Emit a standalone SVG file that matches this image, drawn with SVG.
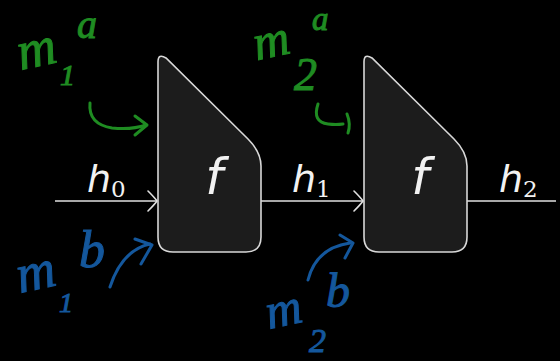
<svg xmlns="http://www.w3.org/2000/svg" width="560" height="361" viewBox="0 0 560 361">
<defs>
<style>
.box{fill:#1c1c1c;stroke:#d8d8d8;stroke-width:1.6}
.wire{stroke:#e0e0e0;stroke-width:1.6;fill:none}
.lbl{fill:#f2f2f2;font-family:"DejaVu Sans",sans-serif;font-style:oblique}
.sub{fill:#f2f2f2;font-family:"DejaVu Serif","Liberation Serif",serif}
.g{fill:#1f8c22;stroke:#1f8c22;stroke-width:1;font-family:"Liberation Serif",serif;font-style:italic}
.b{fill:#14579c;stroke:#14579c;stroke-width:1;font-family:"Liberation Serif",serif;font-style:italic}
.gs{stroke:#1f8c22;stroke-width:3;fill:none;stroke-linecap:round;stroke-linejoin:round}
.bs{stroke:#14579c;stroke-width:3;fill:none;stroke-linecap:round;stroke-linejoin:round}
</style>
<marker id="arr" markerUnits="userSpaceOnUse" markerWidth="14" markerHeight="24" viewBox="-12 -12 14 24" refX="0" refY="0" orient="auto" overflow="visible">
<path d="M-9,-10 Q-2,-3 0,0 Q-2,3 -9,10" fill="none" stroke="#e0e0e0" stroke-width="1.6" stroke-linecap="round"/>
</marker>
</defs>
<rect width="560" height="361" fill="#000"/>
<g id="connectors">
<path class="wire" d="M55,201 L157,201" marker-end="url(#arr)"/>
<path class="wire" d="M261,201 L363,201" marker-end="url(#arr)"/>
<path class="wire" d="M466,201 L556,201"/>
</g>
<g id="f1">
<path class="box" d="M158,62 Q158,53 166,58 L248,139 Q261,152 261,166 L261,237 Q261,252 246,252 L173,252 Q158,252 158,237 Z"/>
<text class="lbl" x="214" y="194" font-size="50" text-anchor="middle">f</text>
</g>
<g id="f2">
<path class="box" d="M364,62 Q364,53 372,58 L454,139 Q467,152 467,166 L467,237 Q467,252 452,252 L379,252 Q364,252 364,237 Z"/>
<text class="lbl" x="420" y="194" font-size="50" text-anchor="middle">f</text>
</g>
<g id="h0">
<text class="lbl" x="87" y="192" font-size="38">h</text>
<text class="sub" x="111" y="197" font-size="23">0</text>
</g>
<g id="h1">
<text class="lbl" x="292" y="192" font-size="38">h</text>
<text class="sub" x="316" y="197" font-size="23">1</text>
</g>
<g id="h2">
<text class="lbl" x="499" y="192" font-size="38">h</text>
<text class="sub" x="523" y="197" font-size="23">2</text>
</g>
<g id="m1a">
<text class="g" x="18" y="66" font-size="54" transform="rotate(-12 38 55)">m</text>
<text class="g" x="60" y="85" font-size="30">1</text>
<text class="g" x="77" y="38" font-size="40">a</text>
<path class="gs" d="M90,103 Q88,124 112,128 Q132,130 146,125"/>
<path class="gs" d="M135,116 L147,125 L135,135"/>
</g>
<g id="m2a">
<text class="g" x="254" y="56" font-size="50" transform="rotate(-12 275 45)">m</text>
<text class="g" x="294" y="90" font-size="46">2</text>
<text class="g" x="312" y="30" font-size="33">a</text>
<path class="gs" d="M318,104 Q312,122 328,124 Q336,125 343,124"/>
<path class="gs" d="M347,114 Q351,124 348,133"/>
</g>
<g id="m1b">
<text class="b" x="17" y="289" font-size="54" transform="rotate(-12 38 277)">m</text>
<text class="b" x="59" y="312" font-size="28">1</text>
<text class="b" x="79" y="267" font-size="52">b</text>
<path class="bs" d="M110,287 Q122,250 150,244"/>
<path class="bs" d="M135,239 L152,245 L141,264"/>
</g>
<g id="m2b">
<text class="b" x="266" y="325" font-size="50" transform="rotate(-12 287 313)">m</text>
<text class="b" x="309" y="352" font-size="34">2</text>
<text class="b" x="326" y="307" font-size="48">b</text>
<path class="bs" d="M308,280 Q316,248 350,243"/>
<path class="bs" d="M340,235 L353,243 L345,258"/>
</g>
</svg>
